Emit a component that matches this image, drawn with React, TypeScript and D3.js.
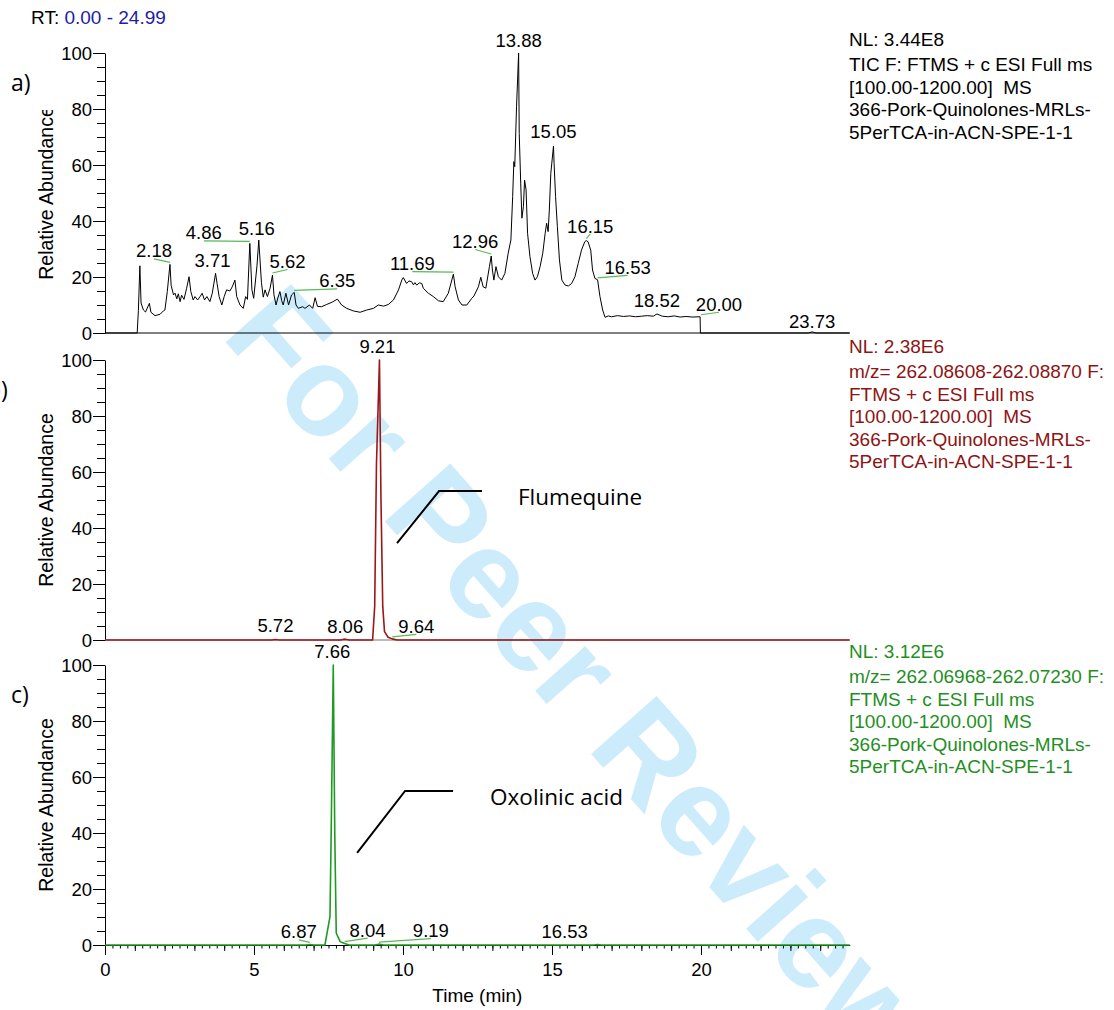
import { useEffect, useRef } from 'react';
import * as d3 from 'd3';

type Pt = [number, number];

// TIC trace: [retention time (min), relative abundance (%)]
const ticTrace: Pt[] = [
  [0, 0], [1.08, 0], [1.12, 8], [1.17, 24], [1.21, 10.7], [1.29, 8.2], [1.36, 7.5], [1.49, 10.6],
  [1.54, 7.4], [1.68, 6.2], [1.85, 6.7], [1.96, 7.9], [2.01, 8.2], [2.09, 14.8], [2.18, 24.5],
  [2.22, 17], [2.3, 13.6], [2.35, 14.2], [2.41, 12.2], [2.46, 14], [2.52, 11.2], [2.57, 13.5],
  [2.65, 12], [2.74, 16], [2.82, 20.1], [2.88, 14.8], [2.96, 11.8], [3.02, 13], [3.11, 11.8],
  [3.19, 13], [3.26, 14.2], [3.34, 11.8], [3.42, 13], [3.52, 11.2], [3.6, 14.2], [3.71, 21.3],
  [3.76, 17.7], [3.83, 13], [3.92, 10], [4.0, 13], [4.08, 15.4], [4.19, 15], [4.27, 16.5],
  [4.36, 18.9], [4.42, 13], [4.53, 10], [4.64, 8.8], [4.72, 13], [4.78, 12], [4.86, 32],
  [4.93, 15.4], [4.99, 12.4], [5.1, 24], [5.16, 33.2], [5.25, 18], [5.31, 12.8], [5.37, 15.4],
  [5.45, 13], [5.54, 16], [5.62, 20.7], [5.67, 13.6], [5.74, 10], [5.8, 12.5], [5.87, 14.8],
  [5.93, 11.5], [5.98, 10], [6.07, 14.2], [6.16, 10], [6.26, 13.6], [6.35, 14.5], [6.41, 10],
  [6.49, 8.8], [6.63, 9.4], [6.71, 8.8], [6.86, 10], [6.97, 8.8], [7.05, 12.6], [7.13, 9.5],
  [7.27, 9.4], [7.44, 10.2], [7.62, 11], [7.8, 12.1], [7.94, 10], [8.11, 8.8], [8.33, 7.9],
  [8.56, 7.4], [8.78, 8.2], [9.01, 8.8], [9.17, 10], [9.35, 9.6], [9.51, 10.2], [9.68, 11.8],
  [9.85, 15.4], [9.96, 18.9], [10.01, 19.8], [10.12, 17.7], [10.2, 18.6], [10.29, 18.3],
  [10.35, 17.2], [10.4, 18], [10.46, 17.1], [10.55, 17.9], [10.63, 17.7], [10.68, 16],
  [10.85, 14.2], [11.02, 13], [11.19, 11.5], [11.35, 11.2], [11.52, 14.2], [11.69, 21],
  [11.75, 16.5], [11.86, 11.8], [11.98, 10], [12.14, 10], [12.31, 12.4], [12.38, 13.2],
  [12.53, 16.5], [12.61, 19.9], [12.69, 16.5], [12.78, 16], [12.9, 23.7], [12.96, 27.5],
  [13.0, 22.5], [13.05, 18.9], [13.12, 23.7], [13.2, 20.1], [13.31, 18.9], [13.42, 21.3],
  [13.53, 28.5], [13.62, 33.2], [13.68, 48.7], [13.72, 61.2], [13.75, 59.4], [13.81, 80.8],
  [13.88, 100], [13.9, 71.3], [13.95, 53.5], [13.99, 41], [14.04, 45.1], [14.08, 54.6],
  [14.13, 51.1], [14.18, 35.6], [14.26, 27.3], [14.35, 21.3], [14.43, 18.9], [14.51, 20.1],
  [14.6, 23.7], [14.69, 28.5], [14.77, 35.6], [14.82, 39.2], [14.87, 36.2], [14.91, 43.9],
  [14.96, 57], [15.05, 66.8], [15.07, 60.6], [15.12, 48.7], [15.18, 38], [15.25, 26.1],
  [15.33, 18.9], [15.44, 17.1], [15.55, 16.8], [15.66, 17.7], [15.77, 20.1], [15.88, 24.9],
  [15.99, 29.6], [16.1, 32.6], [16.15, 33], [16.21, 32.6], [16.3, 29.6], [16.36, 22.5],
  [16.44, 19.5], [16.53, 19], [16.61, 13], [16.7, 8.2], [16.78, 5.6], [16.89, 6.1], [17.0, 5.8],
  [17.2, 6.2], [17.4, 5.9], [17.6, 6.1], [17.8, 5.8], [18.0, 6.0], [18.2, 6.2], [18.4, 6.0],
  [18.52, 6.8], [18.7, 6.0], [18.9, 5.8], [19.1, 6.1], [19.3, 5.7], [19.5, 5.9], [19.7, 5.7],
  [19.97, 5.8], [19.98, 0], [23.6, 0], [23.73, 0.4], [23.86, 0], [24.99, 0],
];

// m/z 262.08608-262.08870 (flumequine)
const flumequineTrace: Pt[] = [
  [0, 0], [5.6, 0], [5.72, 0.2], [5.85, 0], [7.9, 0], [8.06, 0.3], [8.2, 0], [8.98, 0],
  [9.05, 12], [9.11, 63], [9.21, 100], [9.26, 51], [9.32, 12], [9.38, 3], [9.5, 1],
  [9.64, 0.4], [9.8, 0], [24.99, 0],
];

// m/z 262.06968-262.07230 (oxolinic acid)
const oxolinicTrace: Pt[] = [
  [0, 0], [6.75, 0], [6.87, 0.2], [7.0, 0], [7.38, 0], [7.55, 10.1], [7.59, 40], [7.66, 100],
  [7.71, 40], [7.76, 4.3], [7.89, 1.2], [8.04, 0.5], [8.2, 0], [9.05, 0], [9.19, 0.3],
  [9.35, 0], [16.4, 0], [16.53, 0.2], [16.65, 0], [24.99, 0],
];

// labelled peaks: [rt, abundance]
const ticPeaks: Pt[] = [
  [2.18, 24.5], [3.71, 21.3], [4.86, 32], [5.16, 33.2], [5.62, 20.7], [6.35, 14.5],
  [11.69, 21], [12.96, 27.5], [13.88, 100], [15.05, 66.8], [16.15, 33], [16.53, 19],
  [18.52, 6.8], [20.0, 5.8], [23.73, 0.4],
];
const flumequinePeaks: Pt[] = [[5.72, 0.2], [8.06, 0.3], [9.21, 100], [9.64, 0.4]];
const oxolinicPeaks: Pt[] = [[6.87, 0.2], [7.66, 100], [8.04, 0.5], [9.19, 0.3], [16.53, 0.2]];

// label placement (pixel nudges from the peak apex)
const ticNudge: Pt[] = [
  [-16, -7], [-3, -6], [-46, -4], [-2, -5], [15, -7], [43, -5], [-41, -4], [-16, -8],
  [0, -6], [0, -8], [4, -8], [30, -6], [0, -7], [18, -6], [0, -4],
];
const flumequineNudge: Pt[] = [[0, -7], [0, -6], [-2, -7], [24, -6]];
const oxolinicNudge: Pt[] = [[-11, -6], [-1, -7], [23, -7], [52, -7], [-33, -6]];

const ticInfo = ['NL: 3.44E8', 'TIC F: FTMS + c ESI Full ms', '[100.00-1200.00]  MS',
  '366-Pork-Quinolones-MRLs-', '5PerTCA-in-ACN-SPE-1-1'];
const flumequineInfo = ['NL: 2.38E6', 'm/z= 262.08608-262.08870 F:', 'FTMS + c ESI Full ms',
  '[100.00-1200.00]  MS', '366-Pork-Quinolones-MRLs-', '5PerTCA-in-ACN-SPE-1-1'];
const oxolinicInfo = ['NL: 3.12E6', 'm/z= 262.06968-262.07230 F:', 'FTMS + c ESI Full ms',
  '[100.00-1200.00]  MS', '366-Pork-Quinolones-MRLs-', '5PerTCA-in-ACN-SPE-1-1'];

// callouts in data units: polyline + text anchor
const flumequineCallout: Pt[] = [[9.8, 34.6], [11.21, 53.2], [12.65, 53.2]];
const oxolinicCallout: Pt[] = [[8.46, 32.9], [10.07, 55], [11.68, 55]];

const yMajor = [0, 20, 40, 60, 80, 100];

export default function App() {
  const ref = useRef<SVGSVGElement>(null);

  useEffect(() => {
    if (!ref.current) return;
    const svg = d3.select(ref.current);
    svg.selectAll('*').remove();

    const font = '"Liberation Sans", Arial, Helvetica, sans-serif';
    const x = d3.scaleLinear().domain([0, 24.99]).range([105, 849.7]);
    const panelH = 280;

    // watermark behind everything
    svg.append('text')
      .attr('transform', 'translate(220,336) rotate(48.4)')
      .attr('font-family', font)
      .attr('font-weight', 'bold')
      .attr('font-size', 127)
      .attr('fill', '#cdecfb')
      .text('For Peer Review');

    const rt = svg.append('text').attr('x', 31).attr('y', 24)
      .attr('font-family', font).attr('font-size', 19).style('white-space', 'pre');
    rt.append('tspan').attr('fill', '#000').text('RT: ');
    rt.append('tspan').attr('fill', '#1c1ca6').text('0.00 - 24.99');

    svg.append('defs').append('clipPath').attr('id', 'clipA')
      .append('rect').attr('x', 0).attr('y', 110).attr('width', 100).attr('height', 240);

    const panels = [
      { top: 53, trace: ticTrace, color: '#000', width: 1, peaks: ticPeaks, nudge: ticNudge,
        info: ticInfo, infoColor: '#000', tag: 'a)', tagX: 11, clip: true },
      { top: 360, trace: flumequineTrace, color: '#9a1818', width: 1.6, peaks: flumequinePeaks,
        nudge: flumequineNudge, info: flumequineInfo, infoColor: '#8c1414', tag: 'b)', tagX: -13, clip: false },
      { top: 665, trace: oxolinicTrace, color: '#1f9a22', width: 1.6, peaks: oxolinicPeaks,
        nudge: oxolinicNudge, info: oxolinicInfo, infoColor: '#1f8f1f', tag: 'c)', tagX: 11, clip: false },
    ];

    panels.forEach((p, i) => {
      const y = d3.scaleLinear().domain([0, 100]).range([p.top + panelH, p.top]);
      const g = svg.append('g');

      // y axis: minor every 5, major every 20
      g.append('g').attr('transform', `translate(${x(0)},0)`)
        .call(d3.axisLeft(y).tickValues(d3.range(0, 101, 5)).tickSize(8).tickSizeOuter(0).tickFormat(() => ''))
        .call((a) => a.select('.domain').remove());
      const ya = g.append('g').attr('transform', `translate(${x(0)},0)`)
        .call(d3.axisLeft(y).tickValues(yMajor).tickSize(12).tickSizeOuter(0).tickPadding(1).tickFormat(d3.format('d')));
      ya.selectAll('text').attr('font-size', 18.5).attr('font-family', font).attr('fill', '#000').attr('dy', '0.37em');

      // y title
      const yt = g.append('text')
        .attr('transform', `translate(53,${p.top + panelH / 2}) rotate(-90)`)
        .attr('text-anchor', 'middle')
        .attr('font-family', font).attr('font-size', 19.5).attr('fill', '#000')
        .text('Relative Abundance');
      if (p.clip) yt.attr('clip-path', 'url(#clipA)');
      if (p.clip) {
        yt.attr('clip-path', null);
        g.append('g').attr('clip-path', 'url(#clipA)').node()!.appendChild(yt.node()!);
      }

      // baseline / x axis
      if (i < 2) {
        g.append('line').attr('x1', x(0)).attr('x2', x(24.99)).attr('y1', y(0)).attr('y2', y(0))
          .attr('stroke', i === 1 ? '#777' : '#000').attr('stroke-width', 1);
      } else {
        const base = y(0);
        g.append('g').attr('transform', `translate(0,${base})`)
          .call(d3.axisBottom(x).tickValues(d3.range(0, 24.99, 0.25)).tickSize(3.5).tickSizeOuter(0).tickFormat(() => ''))
          .call((a) => a.select('.domain').remove());
        g.append('g').attr('transform', `translate(0,${base})`)
          .call(d3.axisBottom(x).tickValues(d3.range(0, 25, 1)).tickSize(6).tickSizeOuter(0).tickFormat(() => ''))
          .call((a) => a.select('.domain').remove());
        const xa = g.append('g').attr('transform', `translate(0,${base})`)
          .call(d3.axisBottom(x).tickValues([0, 5, 10, 15, 20]).tickSize(10).tickSizeOuter(0).tickPadding(8).tickFormat(d3.format('d')));
        xa.selectAll('text').attr('font-size', 18.5).attr('font-family', font).attr('fill', '#000');
        g.append('text').attr('x', (x(0) + x(24.99)) / 2).attr('y', 1002)
          .attr('text-anchor', 'middle').attr('font-family', font).attr('font-size', 19).attr('fill', '#000')
          .text('Time (min)');
      }

      // trace
      const line = d3.line<Pt>().x((d) => x(d[0])).y((d) => y(d[1]));
      g.append('path').datum(p.trace).attr('d', line).attr('fill', 'none')
        .attr('stroke', p.color).attr('stroke-width', p.width).attr('stroke-linejoin', 'round');

      // peak labels + leader lines
      p.peaks.forEach((pk, k) => {
        const px = x(pk[0]);
        const py = y(pk[1]);
        const [dx, dy] = p.nudge[k];
        const lx = px + dx;
        const ly = py + dy;
        if (Math.abs(dx) >= 4 && !(i === 2 && k === 4)) {
          g.append('line').attr('x1', px).attr('y1', py - 2).attr('x2', lx).attr('y2', ly + 1.5)
            .attr('stroke', '#55bb55').attr('stroke-width', 1.2);
        }
        g.append('text').attr('x', lx).attr('y', ly).attr('text-anchor', 'middle')
          .attr('font-family', font).attr('font-size', 18.5).attr('fill', '#000')
          .text(pk[0].toFixed(2));
      });

      // info block on the right
      const info = g.append('text').attr('font-family', font).attr('font-size', 19)
        .attr('fill', p.infoColor).style('white-space', 'pre');
      p.info.forEach((s, k) => {
        info.append('tspan').attr('x', 849).attr('y', p.top - 7 + (k === 0 ? 0 : 25 + (k - 1) * 22.5)).text(s);
      });

      // panel tag
      g.append('text').attr('x', p.tagX).attr('y', p.top + 37.5)
        .attr('font-family', '"Open Sans", "Noto Sans", sans-serif').attr('font-size', 23).attr('fill', '#000')
        .text(p.tag);

      // compound callouts
      const callout = i === 1 ? flumequineCallout : i === 2 ? oxolinicCallout : null;
      if (callout) {
        const cl = d3.line<Pt>().x((d) => x(d[0])).y((d) => y(d[1]));
        g.append('path').datum(callout).attr('d', cl).attr('fill', 'none')
          .attr('stroke', '#000').attr('stroke-width', 2);
        const last = callout[callout.length - 1];
        g.append('text')
          .attr('x', x(last[0]) + (i === 1 ? 36 : 37))
          .attr('y', y(last[1]) + 14)
          .attr('font-family', '"Open Sans", "Noto Sans", sans-serif').attr('font-size', 22.5)
          .attr('fill', '#000')
          .text(i === 1 ? 'Flumequine' : 'Oxolinic acid');
      }
    });
  }, []);

  return (
    <div style={{ position: 'absolute', left: 0, top: 0 }}>
      <svg ref={ref} width={1114} height={1010} style={{ display: 'block', background: '#fff' }} />
    </div>
  );
}
